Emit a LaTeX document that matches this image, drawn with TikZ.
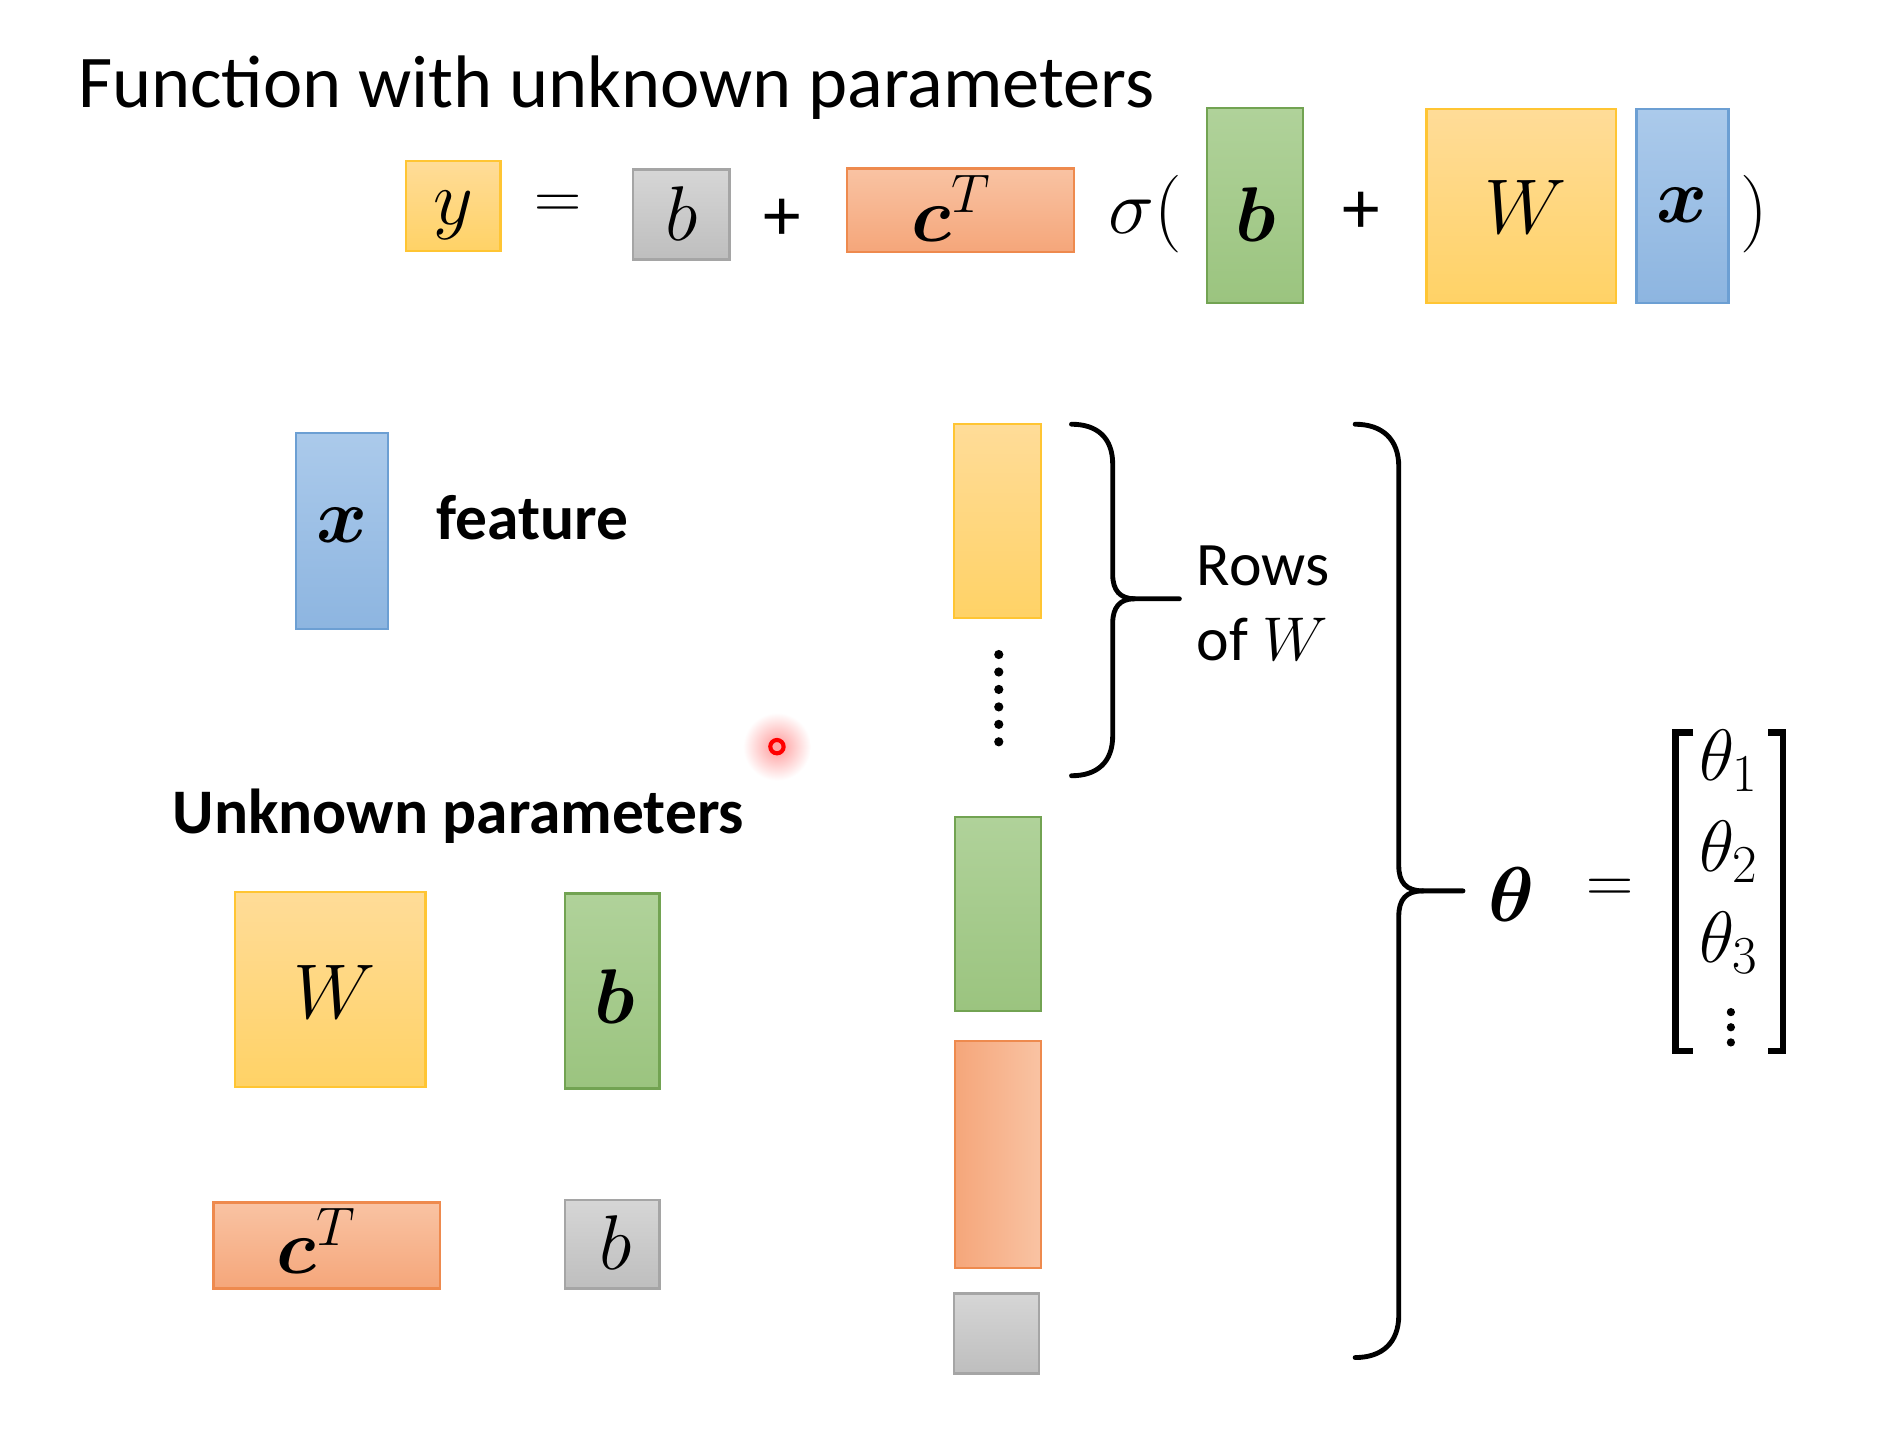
\documentclass[tikz,border=0pt]{standalone}
\usepackage{fix-cm}
\usepackage{amsmath,bm}
\usepackage[no-math]{fontspec}
\setmainfont{Carlito}
\usetikzlibrary{fit}
\DeclareMathSizes{30}{30}{22}{16}
\definecolor{yelT}{HTML}{FFDC98}
\definecolor{yelD}{HTML}{FFD266}
\definecolor{yelB}{HTML}{FFC533}
\definecolor{gryT}{HTML}{D6D6D6}
\definecolor{gryD}{HTML}{BEBEBE}
\definecolor{gryB}{HTML}{A5A5A5}
\definecolor{orT}{HTML}{F9C3A3}
\definecolor{orD}{HTML}{F5A67A}
\definecolor{orB}{HTML}{EE8A4E}
\definecolor{grT}{HTML}{B0D29A}
\definecolor{grD}{HTML}{9BC47F}
\definecolor{grB}{HTML}{72A352}
\definecolor{blT}{HTML}{ABCAEB}
\definecolor{blD}{HTML}{8DB5E0}
\definecolor{blB}{HTML}{6C9FD3}
\tikzset{
  pbox/.style={inner sep=0pt, line width=1pt},
  yelbox/.style={pbox, draw=yelB, top color=yelT, bottom color=yelD},
  grybox/.style={pbox, draw=gryB, top color=gryT, bottom color=gryD},
  orbox/.style={pbox, draw=orB, top color=orT, bottom color=orD},
  orcol/.style={pbox, draw=orB, left color=orD, right color=orT},
  grbox/.style={pbox, draw=grB, top color=grT, bottom color=grD},
  blbox/.style={pbox, draw=blB, top color=blT, bottom color=blD},
  mth/.style={font=\fontsize{32}{38}\selectfont, inner sep=0pt},
  eqsign/.style={font=\fontsize{27}{32}\selectfont, inner sep=0pt},
  vec/.style={font=\fontsize{30}{36}\selectfont, inner sep=0pt, anchor=base},
  plussign/.style={font=\fontsize{31}{37}\selectfont, inner sep=0pt},
  lbl/.style={font=\fontsize{26.2}{31}\selectfont\bfseries, inner sep=0pt, anchor=base west},
  rowlbl/.style={font=\fontsize{25.5}{31}\selectfont, inner sep=0pt, anchor=base west},
  bracepath/.style={line width=2pt, line cap=round, line join=round},
  bracketpath/.style={line width=2.8pt},
}
\begin{document}
\begin{tikzpicture}[x=0.5pt,y=-0.5pt]
\fill[white] (0,0) rectangle (1570,1188);
\useasboundingbox (0,0) rectangle (1570,1188);

% title
\node[font=\fontsize{30.7}{36}\selectfont, inner sep=0pt, anchor=base west] (title) at (64,89) {Function with unknown parameters};

% equation row
\node[yelbox, fit={(335,133)(413,207)}] (ey) {};
\node[mth] (tey) at (374,178) {$y$};
\node[eqsign] (eeq) at (460,171) {$=$};
\node[grybox, fit={(522,140)(602,214)}] (eb0) {};
\node[mth] (teb0) at (562,176) {$b$};
\node[plussign] (ep1) at (645,181) {+};
\node[orbox, fit={(699,139)(886,208)}] (ec) {};
\node[mth] (tec) at (785,172) {$\bm{c}^T$};
\node[mth] (esig) at (945,177) {$\sigma($};
\node[grbox, fit={(996,89)(1075,250)}] (eb) {};
\node[mth] (teb) at (1036,177) {$\bm{b}$};
\node[plussign] (ep2) at (1123,176) {+};
\node[yelbox, fit={(1177,90)(1333,250)}] (eW) {};
\node[mth] (teW) at (1259,171) {$W$};
\node[blbox, fit={(1350,90)(1426,250)}] (ex) {};
\node[mth] (tex) at (1388,169) {$\bm{x}$};
\node[mth] (erp) at (1447,177) {$)$};

% feature
\node[blbox, fit={(244,357)(320,519)}] (fx) {};
\node[mth] (tfx) at (282,433) {$\bm{x}$};
\node[lbl] (feat) at (360,445) {feature};

% laser dot
\shade[inner color=red!40, outer color=white] (641,616) circle (28);
\draw[line width=1.7pt, draw=red, fill=red!35] (641,616) circle (5.5);

% unknown parameters
\node[lbl] (unk) at (142,688) {Unknown parameters};
\node[yelbox, fit={(194,736)(351,897)}] (uW) {};
\node[mth] (tuW) at (276,818) {$W$};
\node[grbox, fit={(466,737)(544,898)}] (ub) {};
\node[mth] (tub) at (507,822) {$\bm{b}$};
\node[orbox, fit={(176,992)(363,1063)}] (uc) {};
\node[mth] (tuc) at (261,1024) {$\bm{c}^T$};
\node[grybox, fit={(466,990)(544,1063)}] (ub0) {};
\node[mth] (tub0) at (508,1025) {$b$};

% column
\node[yelbox, fit={(787,350)(859,510)}] (cy) {};
\foreach \k in {0,...,5} \fill (824,540+14.4*\k) circle (3.8);
\node[grbox, fit={(788,674)(859,834)}] (cg) {};
\node[orcol, fit={(788,859)(859,1046)}] (co) {};
\node[grybox, fit={(787,1067)(857,1133)}] (cgr) {};

% brace for rows of W
\draw[bracepath] (884,350) .. controls (905,350) and (918,361) .. (918,383) -- (918,474)
  .. controls (918,487) and (924,494) .. (936,494) -- (973,494);
\draw[bracepath] (936,494) .. controls (924,494) and (918,501) .. (918,514) -- (918,607)
  .. controls (918,629) and (905,640) .. (884,640);
\node[rowlbl] (rows) at (987,483) {Rows};
\node[rowlbl] (ofw) at (987,545) {of $W$};

% big brace
\draw[bracepath] (1118,350) .. controls (1140,350) and (1154,362) .. (1154,385) -- (1154,714)
  .. controls (1154,728) and (1160,735) .. (1174,735) -- (1207,735);
\draw[bracepath] (1174,735) .. controls (1160,735) and (1154,742) .. (1154,756) -- (1154,1085)
  .. controls (1154,1108) and (1140,1120) .. (1118,1120);

% theta vector
\node[mth] (th) at (1247,738) {$\bm{\theta}$};
\node[eqsign] (theq) at (1328,735) {$=$};
\draw[bracketpath] (1397,604) -- (1382.5,604) -- (1382.5,867) -- (1397,867);
\draw[bracketpath] (1459,604) -- (1471,604) -- (1471,867) -- (1459,867);
\node[vec] (t1) at (1426,644) {$\theta_1$};
\node[vec] (t2) at (1426,719) {$\theta_2$};
\node[vec] (t3) at (1426,794) {$\theta_3$};
\foreach \k in {0,1,2} \fill (1428,835+12.5*\k) circle (3.4);
\end{tikzpicture}
\end{document}
